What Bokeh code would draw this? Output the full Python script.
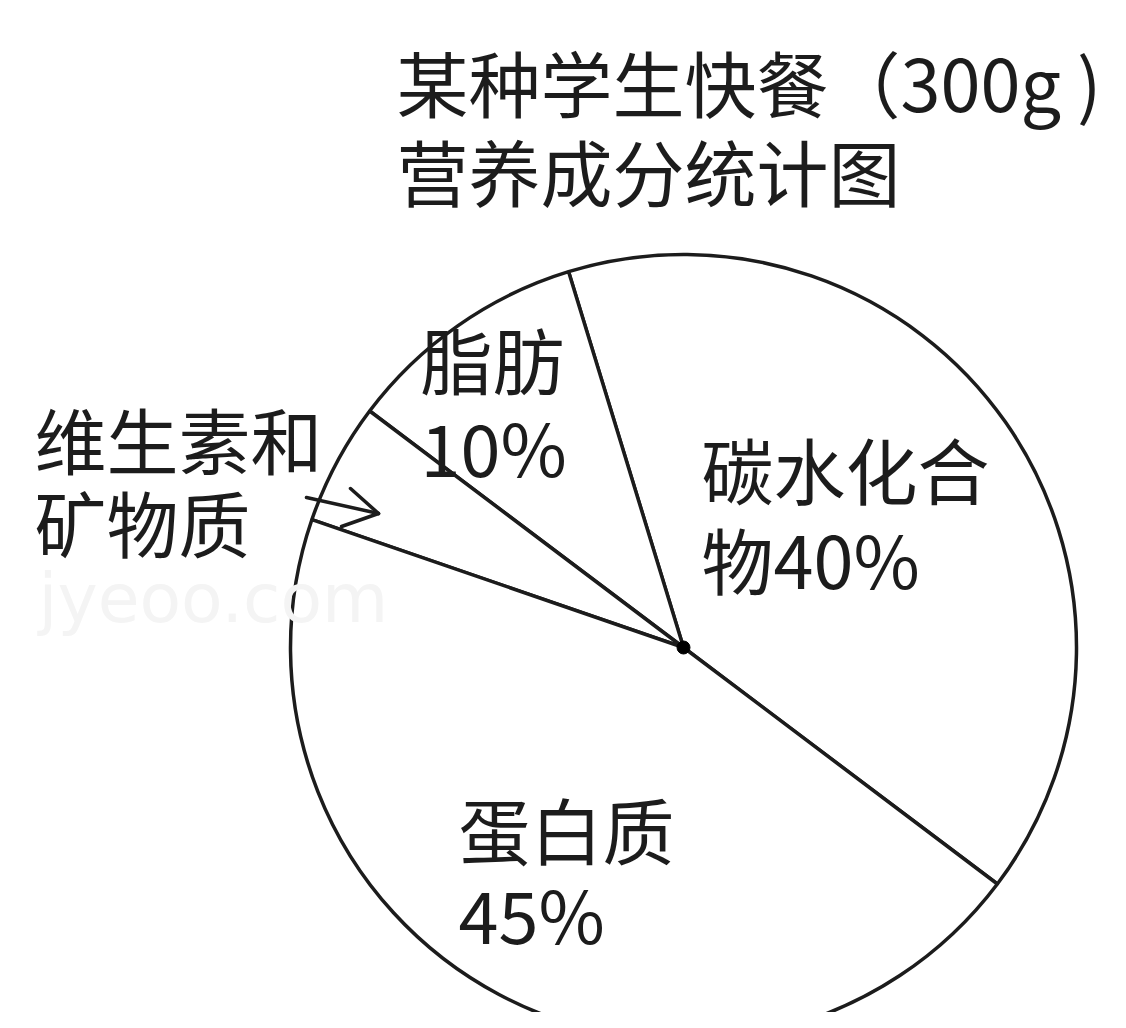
import numpy as np
from bokeh.plotting import figure
from bokeh.models import Range1d, Arrow, ColumnDataSource
from bokeh.core.properties import value
from bokeh.embed import file_html
from bokeh.resources import INLINE

# ---- data ----
title_lines = ["某种学生快餐（300g )", "营养成分统计图"]
names = ["碳水化合物", "脂肪", "维生素和矿物质", "蛋白质"]
percents = [40, 10, 5, 45]
watermark = "jyeoo.com"

# ---- layout (reference pixel coordinates) ----
W, H = 1110, 1012
def X(px):
    return px
def Y(py):
    return H - py

FONT = value("Noto Sans CJK SC")
INK = "#1c1c1c"
START_DEG = -37
CX, CY, R = X(683), Y(647), 393

# label layout: split index of name, show percent, x, y line1, y line2
split = [4, 2, 4, 3]
show_pct = [True, True, False, True]
label_pos = [(701, 467, 557), (420, 357, 445), (34, 437, 520), (458, 827, 912)]

p = figure(width=W, height=H, output_backend="svg", toolbar_location=None,
           x_range=Range1d(0, W), y_range=Range1d(0, H), min_border=0)
p.axis.visible = False
p.grid.visible = False
p.outline_line_color = None
p.background_fill_color = "white"
p.border_fill_color = "white"

frac = np.array(percents, dtype=float) / 100.0
ends = np.deg2rad(START_DEG) + 2 * np.pi * np.cumsum(frac)
starts = ends - 2 * np.pi * frac
src = ColumnDataSource(dict(name=names, pct=percents, start=starts, end=ends,
                            x=[CX] * len(names), y=[CY] * len(names)))
p.wedge(x="x", y="y", radius=R, start_angle="start", end_angle="end",
        fill_color="white", line_color=INK, line_width=3.5, source=src)
p.scatter(x=[CX], y=[CY], size=13, color="black")

# watermark
p.text(x=[X(38)], y=[Y(598)], text=[watermark], text_font=value("DejaVu Sans"),
       text_font_size="68px", text_color="#f4f4f4", text_baseline="middle", text_align="left")

# title
p.text(x=[X(396), X(396)], y=[Y(80), Y(169)], text=title_lines, text_font=FONT,
       text_font_size="72px", text_color=INK, text_baseline="middle", text_align="left")

# labels
lx, ly, lt = [], [], []
for nm, pc, sp, sh, (x, y1, y2) in zip(names, percents, split, show_pct, label_pos):
    l1 = nm[:sp]
    l2 = nm[sp:] + (f"{pc}%" if sh else "")
    lx += [X(x), X(x)]
    ly += [Y(y1), Y(y2)]
    lt += [l1, l2]
p.text(x=lx, y=ly, text=lt, text_font=FONT, text_font_size="72px",
       text_color=INK, text_baseline="middle", text_align="left")

# hand-drawn style arrow pointing at the vitamins slice (shaft + two head strokes)
TIP = (378, 513)
for (sx0, sy0) in [(306, 497), (350, 488), (341, 526)]:
    p.add_layout(Arrow(end=None, x_start=X(sx0), y_start=Y(sy0),
                       x_end=X(TIP[0]), y_end=Y(TIP[1]),
                       line_width=3.5, line_color=INK, line_cap="round"))

open("out.html", "w").write(file_html(p, INLINE))
